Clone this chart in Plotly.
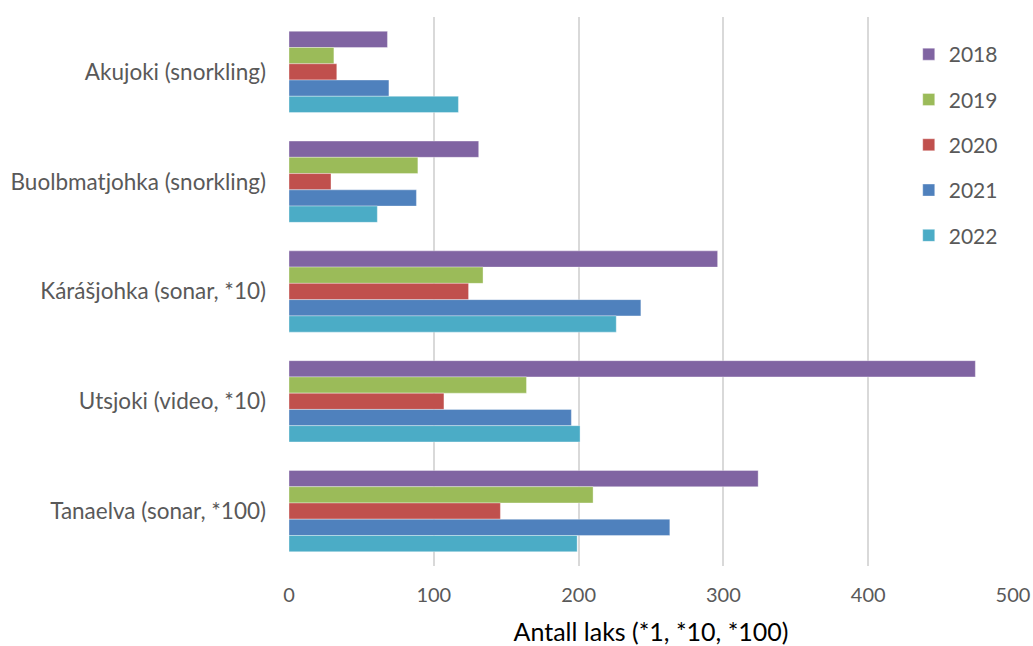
import plotly.graph_objects as go

categories = ["Akujoki (snorkling)", "Buolbmatjohka (snorkling)", "Kárášjohka (sonar, *10)",
              "Utsjoki (video, *10)", "Tanaelva (sonar, *100)"]
years = ["2018", "2019", "2020", "2021", "2022"]
v2018 = [68, 131, 296, 474, 324]
v2019 = [31, 89, 134, 164, 210]
v2020 = [33, 29, 124, 107, 146]
v2021 = [69, 88, 243, 195, 263]
v2022 = [117, 61, 226, 201, 199]
series = [v2018, v2019, v2020, v2021, v2022]
colors = ["#8064A2", "#9BBB59", "#C0504D", "#4F81BD", "#4BACC6"]
x_ticks = [0, 100, 200, 300, 400, 500]

FONT = "Lato"
fig = go.Figure()
for yr, vals, c in zip(years, series, colors):
    fig.add_trace(go.Bar(
        y=categories, x=vals, name=yr, orientation="h",
        marker=dict(color=c, line=dict(color="rgba(255,255,255,0.35)", width=1)),
        legendgroup=yr,
    ))

fig.update_layout(
    width=1033, height=646,
    margin=dict(l=289, r=20, t=17, b=80),
    paper_bgcolor="white", plot_bgcolor="white",
    barmode="group", bargap=0.26, bargroupgap=0,
    font=dict(family=FONT, size=20, color="#595959"),
    legend=dict(
        x=0.856, y=0.969, xanchor="left", yanchor="top",
        font=dict(family=FONT, size=21, color="#595959"),
        tracegroupgap=15, bgcolor="rgba(255,255,255,0)",
        itemwidth=30,
    ),
    xaxis=dict(
        range=[0, 500], tickvals=x_ticks, showgrid=True, gridcolor="#D9D9D9", gridwidth=2,
        zeroline=False, showline=False, ticks="", ticklabelstandoff=15, automargin=False,
        tickfont=dict(family=FONT, size=20, color="#595959"),
        title=dict(text="Antall laks (*1, *10, *100)", font=dict(family=FONT, size=25, color="#000000"), standoff=21),
    ),
    yaxis=dict(
        autorange="reversed", showgrid=False, showline=False, ticks="", ticklabelstandoff=22,
        automargin=False,
        tickfont=dict(family=FONT, size=22.5, color="#595959"),
    ),
)
fig.write_html("out.html")
